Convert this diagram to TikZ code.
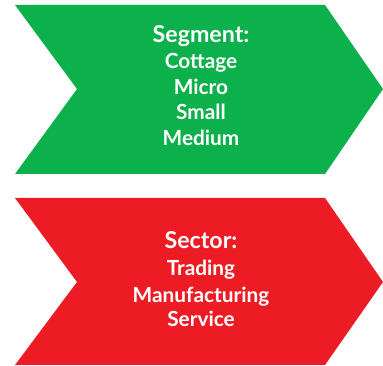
\documentclass[tikz,border=0pt]{standalone}
\usepackage{fontspec}
\setmainfont{Lato}
\definecolor{segmentgreen}{RGB}{13,177,75}
\definecolor{sectorred}{RGB}{237,28,36}
\begin{document}
\begin{tikzpicture}[x=1pt,y=1pt,
      head label/.style={text=white,font=\bfseries\fontsize{23.2}{27}\selectfont,anchor=base,inner sep=0pt},
      item label/.style={text=white,font=\bfseries\fontsize{20.8}{24}\selectfont,anchor=base,inner sep=0pt}
                               ]
  \useasboundingbox (0,0) rectangle (383,366);
  % green chevron
  \fill[segmentgreen] (15,361) -- (325,361) -- (383,277) -- (325,192) -- (15,192) -- (77,277) -- cycle;
  % red chevron
  \fill[sectorred] (15,168) -- (325,168) -- (383,84) -- (325,1) -- (15,1) -- (77,84) -- cycle;
  \node[head label] (segment) at (201,323.3) {Segment:};
  \node[item label] (cottage) at (201,297.7) {Cottage};
  \node[item label] (micro) at (201,271) {Micro};
  \node[item label] (small) at (201,246) {Small};
  \node[item label] (medium) at (201,220.3) {Medium};
  \node[head label] (sector) at (201,117) {Sector:};
  \node[item label] (trading) at (201,90.3) {Trading};
  \node[item label] (manufacturing) at (201,63.7) {Manufacturing};
  \node[item label] (service) at (201,39) {Service};
\end{tikzpicture}
\end{document}
